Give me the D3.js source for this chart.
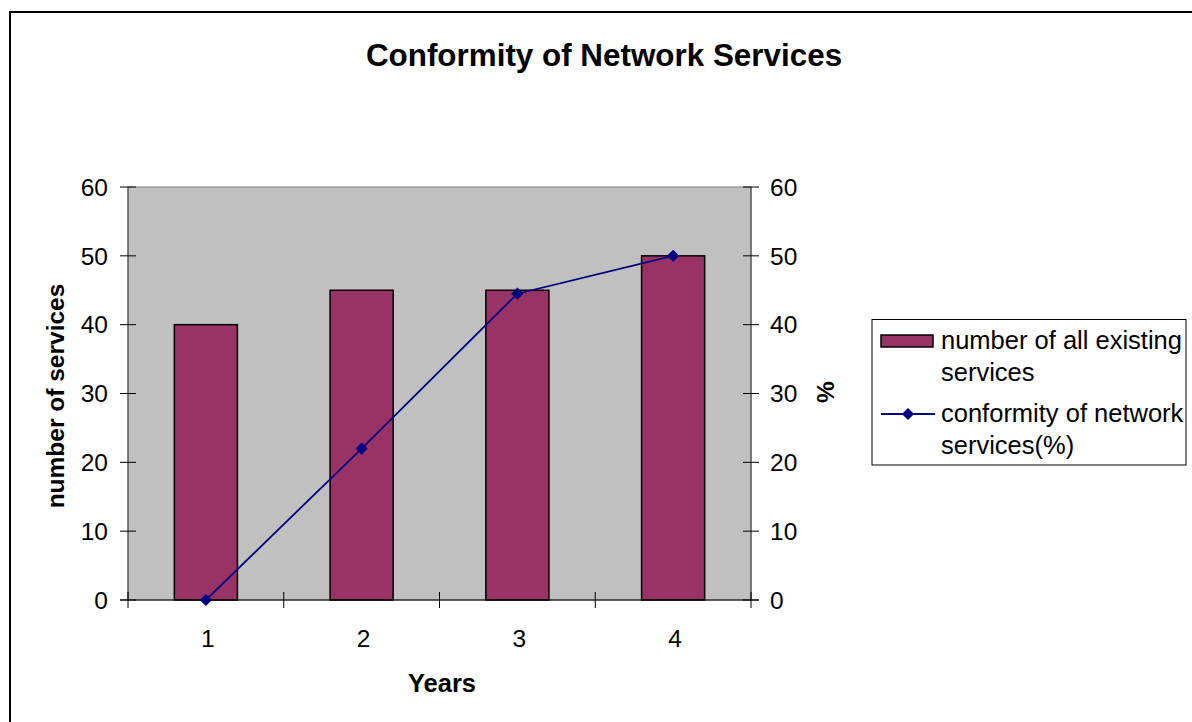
<!DOCTYPE html>
<html><head><meta charset="utf-8">
<script src="https://cdn.jsdelivr.net/npm/d3@7"></script>
<style>body{margin:0;background:#fff}svg{display:block;font-family:"Liberation Sans",Arial,sans-serif}</style>
</head><body>
<svg id="c" width="1192" height="722"></svg>
<script>
const categories = ["1","2","3","4"];
const servicesCount = [40,45,45,50];
const conformityPct = [0,22,44.5,50];
const yTicks = [0,10,20,30,40,50,60];
const seriesNames = ["number of all existing services","conformity of network services(%)"];

const svg = d3.select("#c");
const L=128,R=751,T=187,B=600;
const FS=24.5, LFS=25.5;

svg.append("rect").attr("x",10).attr("y",12).attr("width",1200).attr("height",730)
  .attr("fill","#fff").attr("stroke","#000").attr("stroke-width",2);

const x = d3.scaleBand().domain(categories).range([L,R]);
const yL = d3.scaleLinear().domain([0,60]).range([B,T]);
const yR = d3.scaleLinear().domain([0,60]).range([B,T]);

svg.append("rect").attr("x",L).attr("y",T).attr("width",R-L).attr("height",B-T)
  .attr("fill","#c0c0c0").attr("stroke","#808080").attr("stroke-width",1);

const bw = x.bandwidth()*0.405;
svg.selectAll("rect.bar").data(servicesCount).enter().append("rect").attr("class","bar")
  .attr("x",(d,i)=>x(categories[i])+x.bandwidth()/2-bw/2)
  .attr("y",d=>yL(d)).attr("width",bw).attr("height",d=>B-yL(d))
  .attr("fill","#993366").attr("stroke","#000").attr("stroke-width",1.5);

// axes
const gl = svg.append("g");
gl.append("line").attr("x1",L).attr("x2",L).attr("y1",T).attr("y2",B).attr("stroke","#404040");
gl.append("line").attr("x1",R).attr("x2",R).attr("y1",T).attr("y2",B).attr("stroke","#404040");
gl.append("line").attr("x1",L-8).attr("x2",R+8).attr("y1",B).attr("y2",B).attr("stroke","#000");
yTicks.forEach(t=>{
  gl.append("line").attr("x1",L-8).attr("x2",L+8).attr("y1",yL(t)).attr("y2",yL(t)).attr("stroke","#000");
  gl.append("line").attr("x1",R-8).attr("x2",R+8).attr("y1",yR(t)).attr("y2",yR(t)).attr("stroke","#000");
  gl.append("text").attr("x",L-20).attr("y",yL(t)).attr("dy","0.36em").attr("text-anchor","end")
    .attr("font-size",FS).text(t);
  gl.append("text").attr("x",R+19).attr("y",yR(t)).attr("dy","0.36em").attr("text-anchor","start")
    .attr("font-size",FS).text(t);
});
const xb = [L].concat(categories.map(c=>x(c)+x.bandwidth()));
xb.forEach(v=>{
  gl.append("line").attr("x1",v).attr("x2",v).attr("y1",B-8).attr("y2",B+8).attr("stroke","#000");
});
categories.forEach(c=>{
  gl.append("text").attr("x",x(c)+x.bandwidth()/2+2).attr("y",638).attr("dy","0.36em")
    .attr("text-anchor","middle").attr("font-size",FS).text(c);
});

// line
const line = d3.line().x((d,i)=>x(categories[i])+x.bandwidth()/2).y(d=>yR(d));
svg.append("path").attr("d",line(conformityPct)).attr("fill","none").attr("stroke","#000080").attr("stroke-width",1.8);
const diamond = d3.symbol().type(d3.symbolDiamond2).size(95);
svg.selectAll("path.pt").data(conformityPct).enter().append("path").attr("class","pt")
  .attr("d",diamond).attr("fill","#000080")
  .attr("transform",(d,i)=>`translate(${x(categories[i])+x.bandwidth()/2},${yR(d)})`);

// titles
svg.append("text").attr("x",604).attr("y",55).attr("dy","0.36em").attr("text-anchor","middle")
  .attr("font-size",31.4).attr("font-weight","bold").text("Conformity of Network Services");
svg.append("text").attr("transform","translate(55,396) rotate(-90)").attr("dy","0.36em")
  .attr("text-anchor","middle").attr("font-size",FS).attr("font-weight","bold").text("number of services");
svg.append("text").attr("transform","translate(825,392) rotate(-90)").attr("dy","0.36em")
  .attr("text-anchor","middle").attr("font-size",FS).attr("font-weight","bold").text("%");
svg.append("text").attr("x",442).attr("y",683).attr("dy","0.36em").attr("text-anchor","middle")
  .attr("font-size",25.5).attr("font-weight","bold").text("Years");

// legend
const lg = svg.append("g");
lg.append("rect").attr("x",872).attr("y",319.5).attr("width",314).attr("height",145.5)
  .attr("fill","#fff").attr("stroke","#000").attr("stroke-width",1);
lg.append("rect").attr("x",881).attr("y",335).attr("width",52).attr("height",12)
  .attr("fill","#993366").attr("stroke","#000").attr("stroke-width",1.5);
lg.append("text").attr("x",941).attr("y",349).attr("font-size",LFS).text(seriesNames[0].split(" ").slice(0,4).join(" "));
lg.append("text").attr("x",941).attr("y",381).attr("font-size",LFS).text(seriesNames[0].split(" ").slice(4).join(" "));
lg.append("line").attr("x1",881).attr("x2",935).attr("y1",414).attr("y2",414).attr("stroke","#000080").attr("stroke-width",1.8);
lg.append("path").attr("d",diamond).attr("fill","#000080").attr("transform","translate(908,414)");
lg.append("text").attr("x",941).attr("y",422).attr("font-size",LFS).text(seriesNames[1].split(" ").slice(0,3).join(" "));
lg.append("text").attr("x",941).attr("y",454).attr("font-size",LFS).text(seriesNames[1].split(" ").slice(3).join(" "));
</script>
</body></html>
